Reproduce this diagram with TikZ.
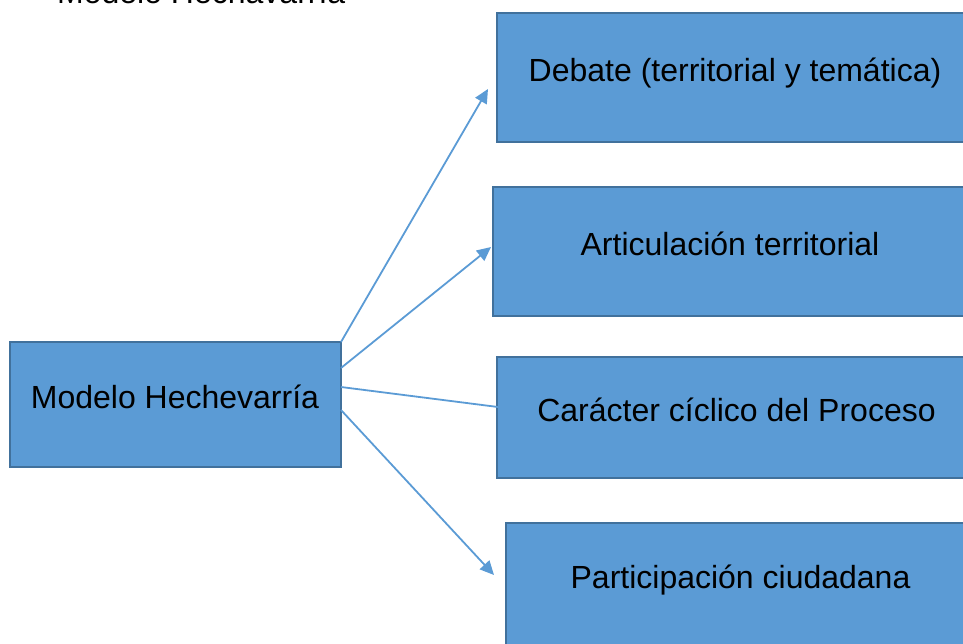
\documentclass[tikz,border=0pt]{standalone}
\usepackage{fontspec}
\setmainfont{Liberation Sans}
\usetikzlibrary{arrows.meta}
\definecolor{boxfill}{HTML}{5B9BD5}
\definecolor{boxline}{HTML}{41719C}
\definecolor{conn}{HTML}{5B9BD5}
\begin{document}
\begin{tikzpicture}[x=1pt,y=-1pt,
  box/.style={draw=boxline,line width=2pt,fill=boxfill},
  lbl/.style={anchor=base,inner sep=0pt,font=\fontsize{32}{38}\selectfont,text=black},
  conn/.style={draw=conn,line width=1.8pt},
  arr/.style={conn,-{Triangle[length=14pt,width=13pt]}}]
\useasboundingbox (0,0) rectangle (963,643);
% title (cut off at top)
\node[lbl,anchor=base west] (title) at (57,3) {Modelo Hechavarría};
% boxes
\draw[box] (10,342) rectangle (341,467);
\coordinate (mainR) at (341,404);
\draw[box] (497,13) rectangle (975,142);
\draw[box] (493,187) rectangle (975,316);
\draw[box] (497,357) rectangle (975,478);
\draw[box] (506,523) rectangle (975,660);
% labels
\node[lbl] (main) at (175,408) {Modelo Hechevarría};
\node[lbl] (b1) at (735,81) {Debate (territorial y temática)};
\node[lbl] (b2) at (730,255) {Articulación territorial};
\node[lbl] (b3) at (736.5,421) {Carácter cíclico del Proceso};
\node[lbl] (b4) at (740.5,588) {Participación ciudadana};
% connector coordinates
\coordinate (s1) at (341,342);
\coordinate (s2) at (341,368);
\coordinate (s3) at (341,387);
\coordinate (s4) at (341,410);
\coordinate (e1) at (488,89);
\coordinate (e2) at (491,247);
\coordinate (e3) at (498,407);
\coordinate (e4) at (494,575);
\draw[arr] (s1) -- (e1);
\draw[arr] (s2) -- (e2);
\draw[conn] (s3) -- (e3);
\draw[arr] (s4) -- (e4);
\end{tikzpicture}
\end{document}
